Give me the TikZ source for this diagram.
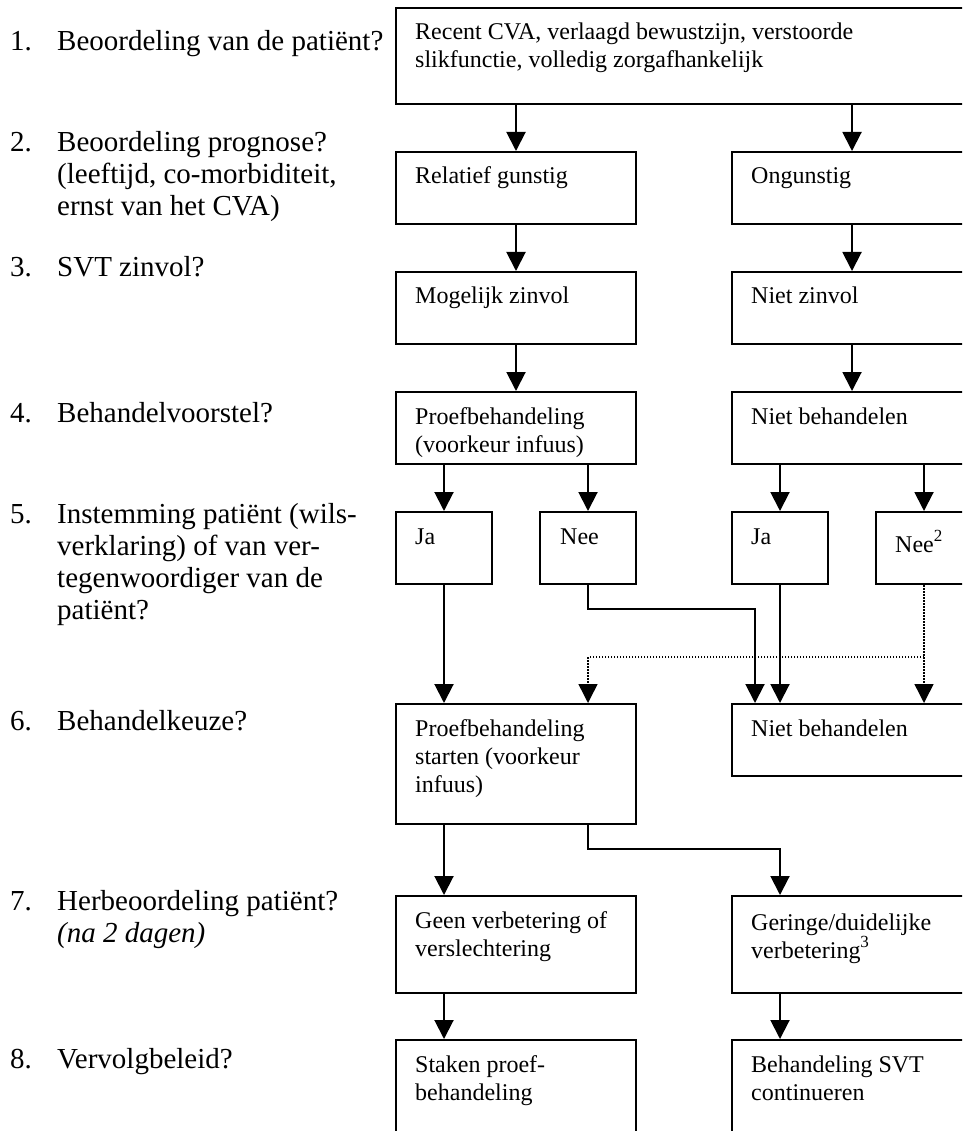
\documentclass[tikz,border=0pt]{standalone}
\usepackage{fontspec}
\setmainfont{Liberation Serif}
\usetikzlibrary{arrows.meta,positioning}
\newcommand{\boxfont}{\fontsize{24}{28}\selectfont}
\newcommand{\stagefont}{\fontsize{29}{32}\selectfont}
\newcommand{\noot}[1]{\raisebox{11pt}{\fontsize{17}{17}\selectfont #1}}

\begin{document}
\begin{tikzpicture}[x=1pt, y=-1pt,
    box/.style={draw, rectangle, line width=2pt, anchor=north west, inner sep=0pt, minimum width=240pt, minimum height=72pt},
    smallbox/.style={box, minimum width=96pt},
    boxtext/.style={anchor=base west, align=left, inner sep=0pt, font=\boxfont},
    stage/.style={anchor=base west, align=left, inner sep=0pt, font=\stagefont},
    arrow/.style={-{Triangle[width=19pt,length=19pt]}, line width=2pt},
    dotarrow/.style={arrow, line width=1.5pt, dash pattern=on 1.5pt off 1.5pt}
]
    \useasboundingbox (0,0) rectangle (962,1131);
    \clip (0,0) rectangle (962,1131);

    % Left column: questions per step (multi-line nodes sit on their last baseline)
    \node[stage] (n1) at (10,51) {1.};
    \node[stage] (q1) at (57,51) {Beoordeling van de patiënt?};
    \node[stage] (n2) at (10,152) {2.};
    \node[stage] (q2) at (57,216) {Beoordeling prognose?\\(leeftijd, co-morbiditeit,\\ernst van het CVA)};
    \node[stage] (n3) at (10,277) {3.};
    \node[stage] (q3) at (57,277) {SVT zinvol?};
    \node[stage] (n4) at (10,422) {4.};
    \node[stage] (q4) at (57,422) {Behandelvoorstel?};
    \node[stage] (n5) at (10,523) {5.};
    \node[stage] (q5) at (57,619) {Instemming patiënt (wils-\\verklaring) of van ver-\\tegenwoordiger van de\\patiënt?};
    \node[stage] (n6) at (10,730) {6.};
    \node[stage] (q6) at (57,730) {Behandelkeuze?};
    \node[stage] (n7) at (10,910) {7.};
    \node[stage] (q7) at (57,942) {Herbeoordeling patiënt?\\\textit{(na 2 dagen)}};
    \node[stage] (n8) at (10,1068) {8.};
    \node[stage] (q8) at (57,1068) {Vervolgbeleid?};

    % Flow boxes
    \node[box, minimum width=576pt, minimum height=96pt] (cva) at (395,7) {};
    \node[box] (gunstig) at (395,151) {};
    \node[box] (ongunstig) at (731,151) {};
    \node[box] (zinvol) at (395,271) {};
    \node[box] (nietzinvol) at (731,271) {};
    \node[box] (proef) at (395,391) {};
    \node[box] (nietbeh) at (731,391) {};
    \node[smallbox] (ja1) at (395,511) {};
    \node[smallbox] (nee1) at (539,511) {};
    \node[smallbox] (ja2) at (731,511) {};
    \node[smallbox] (nee2) at (875,511) {};
    \node[box, minimum height=120pt] (proefstart) at (395,703) {};
    \node[box] (nietbeh2) at (731,703) {};
    \node[box, minimum height=97pt] (geen) at (395,895) {};
    \node[box, minimum height=97pt] (gering) at (731,895) {};
    \node[box, minimum height=120pt] (staken) at (395,1039) {};
    \node[box, minimum height=120pt] (svt) at (731,1039) {};

    % Box texts
    \node[boxtext] (cva-t) at ([xshift=20pt,yshift=-61pt]cva.north west) {Recent CVA, verlaagd bewustzijn, verstoorde\\slikfunctie, volledig zorgafhankelijk};
    \node[boxtext] (gunstig-t) at ([xshift=20pt,yshift=-33pt]gunstig.north west) {Relatief gunstig};
    \node[boxtext] (ongunstig-t) at ([xshift=20pt,yshift=-33pt]ongunstig.north west) {Ongunstig};
    \node[boxtext] (zinvol-t) at ([xshift=20pt,yshift=-33pt]zinvol.north west) {Mogelijk zinvol};
    \node[boxtext] (nietzinvol-t) at ([xshift=20pt,yshift=-33pt]nietzinvol.north west) {Niet zinvol};
    \node[boxtext] (proef-t) at ([xshift=20pt,yshift=-61pt]proef.north west) {Proefbehandeling\\(voorkeur infuus)};
    \node[boxtext] (nietbeh-t) at ([xshift=20pt,yshift=-33pt]nietbeh.north west) {Niet behandelen};
    \node[boxtext] (ja1-t) at ([xshift=20pt,yshift=-33pt]ja1.north west) {Ja};
    \node[boxtext] (nee1-t) at ([xshift=21pt,yshift=-33pt]nee1.north west) {Nee};
    \node[boxtext] (ja2-t) at ([xshift=20pt,yshift=-33pt]ja2.north west) {Ja};
    \node[boxtext] (nee2-t) at ([xshift=20pt,yshift=-41pt]nee2.north west) {Nee\noot{2}};
    \node[boxtext] (proefstart-t) at ([xshift=20pt,yshift=-89pt]proefstart.north west) {Proefbehandeling\\starten (voorkeur\\infuus)};
    \node[boxtext] (nietbeh2-t) at ([xshift=20pt,yshift=-33pt]nietbeh2.north west) {Niet behandelen};
    \node[boxtext] (geen-t) at ([xshift=20pt,yshift=-61pt]geen.north west) {Geen verbetering of\\verslechtering};
    \node[boxtext] (gering-t) at ([xshift=20pt,yshift=-63pt]gering.north west) {Geringe/duidelijke\\verbetering\noot{3}};
    \node[boxtext] (staken-t) at ([xshift=20pt,yshift=-61pt]staken.north west) {Staken proef-\\behandeling};
    \node[boxtext] (svt-t) at ([xshift=20pt,yshift=-61pt]svt.north west) {Behandeling SVT\\continueren};

    % Connections steps 1-4
    \draw[arrow] (cva.south -| gunstig.north) -- (gunstig.north);
    \draw[arrow] (cva.south -| ongunstig.north) -- (ongunstig.north);
    \draw[arrow] (gunstig.south) -- (zinvol.north);
    \draw[arrow] (ongunstig.south) -- (nietzinvol.north);
    \draw[arrow] (zinvol.south) -- (proef.north);
    \draw[arrow] (nietzinvol.south) -- (nietbeh.north);

    % Connections step 5
    \draw[arrow] (proef.south -| ja1.north) -- (ja1.north);
    \draw[arrow] (proef.south -| nee1.north) -- (nee1.north);
    \draw[arrow] (nietbeh.south -| ja2.north) -- (ja2.north);
    \draw[arrow] (nietbeh.south -| nee2.north) -- (nee2.north);

    % Connections step 6
    \coordinate (neejoin) at ([xshift=24pt]nietbeh2.north west);
    \coordinate (dotsplit) at ([yshift=-72pt]nee2.south);
    \draw[arrow] (ja1.south) -- (proefstart.north -| ja1.south);
    \draw[arrow] (nee1.south) -- ++(0,24) -| (neejoin);
    \draw[arrow] (ja2.south) -- (nietbeh2.north -| ja2.south);
    \draw[dotarrow] (nee2.south) -- (nietbeh2.north -| nee2.south);
    \draw[dotarrow] (dotsplit) -| (proefstart.north -| nee1.south);

    % Connections steps 7-8
    \draw[arrow] (proefstart.south -| ja1.south) -- (geen.north -| ja1.south);
    \draw[arrow] (proefstart.south -| nee1.south) -- ++(0,24) -| (gering.north -| ja2.south);
    \draw[arrow] (geen.south -| ja1.south) -- (staken.north -| ja1.south);
    \draw[arrow] (gering.south -| ja2.south) -- (svt.north -| ja2.south);
\end{tikzpicture}
\end{document}
